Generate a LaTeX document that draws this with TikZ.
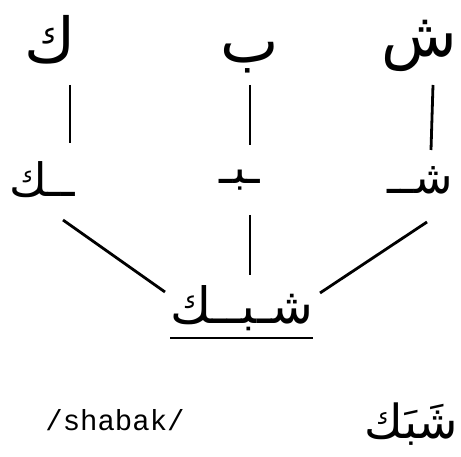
\documentclass[tikz,border=0pt]{standalone}
\usepackage{fontspec}
\TeXXeTstate=1
\newfontfamily\arabicfont[Script=Arabic]{DejaVu Sans}
\setmonofont{Liberation Mono}
\usetikzlibrary{positioning, calc}

\begin{document}
\begin{tikzpicture}[
    x=1pt, y=-1pt,
    letter/.style={font=\fontsize{62}{70}\arabicfont, inner sep=0pt},
    form/.style={font=\fontsize{46}{54}\arabicfont, inner sep=0pt},
    word/.style={font=\fontsize{50}{58}\arabicfont, inner sep=0pt},
    link/.style={line width=2.8pt, black}
  ]
  \useasboundingbox (0,0) rectangle (461,457);

  % single letters
  \node[letter] (kaf)   at (50,40)  {\beginR ك\endR};
  \node[letter] (ba)    at (250,58) {\beginR ب\endR};
  \node[letter] (shin)  at (419,46) {\beginR ش\endR};

  % joined forms
  \node[form] (kafF)  at (42,180)  {\beginR ــك\endR};
  \node[form] (baM)   at (240,180) {\beginR ـبـ\endR};
  \node[form] (shinI) at (420,180) {\beginR شــ\endR};

  % the word
  \node[word] (shabak) at (242,308) {\beginR شـبــك\endR};

  % transcription
  \node[font=\fontsize{29}{34}\ttfamily, inner sep=0pt] (latin) at (115,420) {/shabak/};
  \node[font=\fontsize{47}{56}\arabicfont, inner sep=0pt] (vowelled) at (411,424) {\beginR شَبَك\endR};

  \draw[link] ($(kaf.center)+(20,45)$) -- ($(kafF.center)+(28,-37)$);
  \draw[link] ($(ba.center)+(0,27)$) -- ($(baM.center)+(10,-35)$);
  \draw[link] ($(shin.center)+(14,39)$) -- ($(shinI.center)+(11,-30)$);

  \draw[link] ($(kafF.center)+(21,40)$) -- ($(shabak.center)+(-77,-16)$);
  \draw[link] ($(baM.center)+(10,35)$) -- ($(shabak.center)+(8,-33)$);
  \draw[link] ($(shinI.center)+(7,42)$) -- ($(shabak.center)+(78,-15)$);

  \draw[link, line width=2.4pt] ($(shabak.center)+(-72,30)$) -- ($(shabak.center)+(71,30)$);
\end{tikzpicture}
\end{document}
